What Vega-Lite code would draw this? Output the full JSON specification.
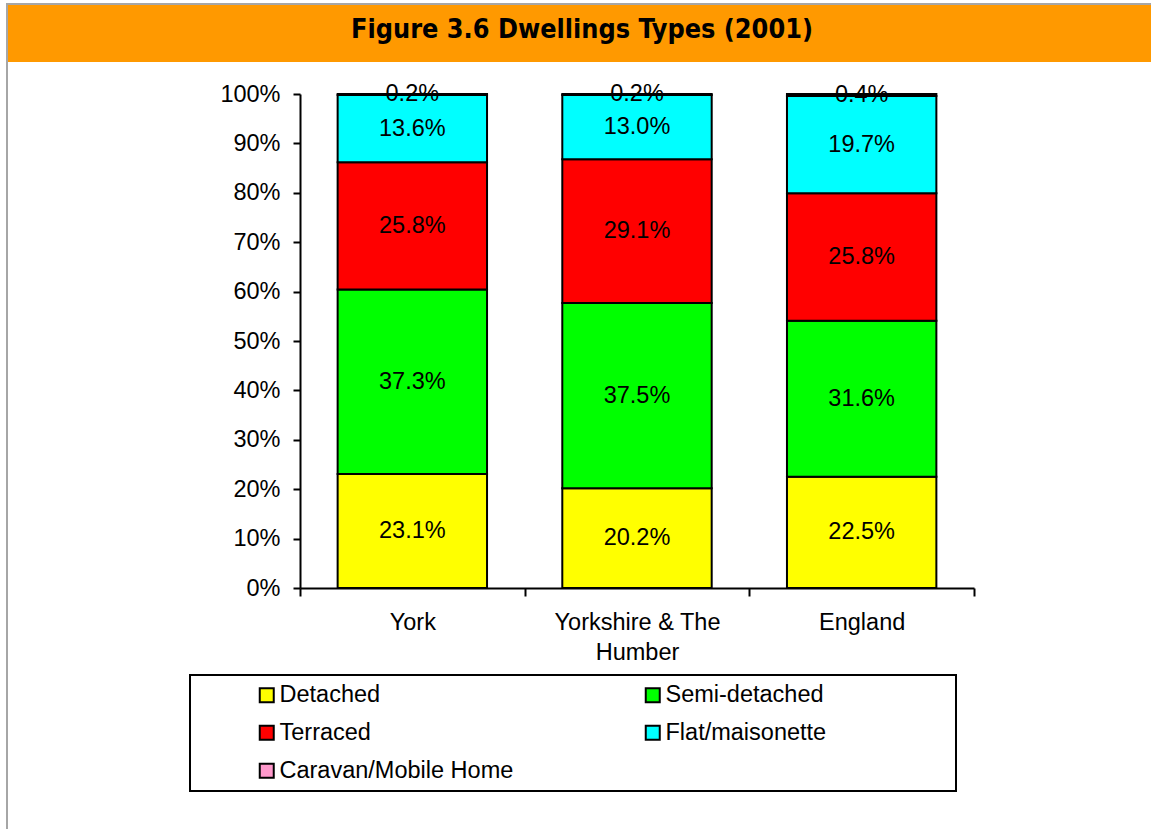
{
  "$schema": "https://vega.github.io/schema/vega-lite/v6.json",
  "padding": {"left": 6, "top": 3, "right": 0, "bottom": 0},
  "background": "white",
  "spacing": 0,
  "config": {"view": {"stroke": null}, "font": "Liberation Sans", "legend": {"strokeWidth": 2}},
  "vconcat": [
    {
      "width": 1145, "height": 2,
      "view": {"fill": "#A6A6A6", "stroke": null},
      "data": {"values": [{}]},
      "mark": {"type": "point", "opacity": 0, "size": 0, "strokeWidth": 0, "filled": true},
      "encoding": {}
    },
    {
      "spacing": 0,
      "hconcat": [
        {
          "width": 2, "height": 824,
          "view": {"fill": "#A6A6A6", "stroke": null},
          "data": {"values": [{}]},
          "mark": {"type": "point", "opacity": 0, "size": 0, "strokeWidth": 0, "filled": true},
          "encoding": {}
        },
        {
          "spacing": 20,
          "vconcat": [
            {
              "width": 1143,
              "height": 57,
              "view": {"fill": "#FF9900", "stroke": null},
              "data": {"values": [{"title": "Figure 3.6 Dwellings Types (2001)"}]},
              "mark": {"type": "text", "font": "DejaVu Sans Condensed, DejaVu Sans", "fontWeight": "bold", "fontSize": 26.8, "color": "black", "baseline": "middle", "align": "center", "dy": -4, "dx": 2.5},
              "encoding": {"text": {"field": "title", "type": "nominal"}}
            },
            {
              "width": 1143,
              "height": 494,
              "data": {"values": [
                {"area": "York", "type": "Detached", "share": 0.231},
                {"area": "York", "type": "Semi-detached", "share": 0.373},
                {"area": "York", "type": "Terraced", "share": 0.258},
                {"area": "York", "type": "Flat/maisonette", "share": 0.136},
                {"area": "York", "type": "Caravan/Mobile Home", "share": 0.002},
                {"area": "Yorkshire & The Humber", "type": "Detached", "share": 0.202},
                {"area": "Yorkshire & The Humber", "type": "Semi-detached", "share": 0.375},
                {"area": "Yorkshire & The Humber", "type": "Terraced", "share": 0.291},
                {"area": "Yorkshire & The Humber", "type": "Flat/maisonette", "share": 0.130},
                {"area": "Yorkshire & The Humber", "type": "Caravan/Mobile Home", "share": 0.002},
                {"area": "England", "type": "Detached", "share": 0.225},
                {"area": "England", "type": "Semi-detached", "share": 0.316},
                {"area": "England", "type": "Terraced", "share": 0.258},
                {"area": "England", "type": "Flat/maisonette", "share": 0.197},
                {"area": "England", "type": "Caravan/Mobile Home", "share": 0.004}
              ]},
              "transform": [
                {"calculate": "indexof(['Detached','Semi-detached','Terraced','Flat/maisonette','Caravan/Mobile Home'], datum.type)", "as": "rank"},
                {"stack": "share", "groupby": ["area"], "sort": [{"field": "rank", "order": "ascending"}], "as": ["y0", "y1"]},
                {"calculate": "(datum.y0 + datum.y1) / 2", "as": "ymid"}
              ],
              "encoding": {
                "x": {
                  "field": "area", "type": "nominal",
                  "sort": ["York", "Yorkshire & The Humber", "England"],
                  "scale": {"paddingInner": 0, "paddingOuter": 0, "range": [292, 966]},
                  "axis": {
                    "title": null, "labelAngle": 0, "labelFontSize": 23.5, "labelColor": "black",
                    "labelFont": "Liberation Sans", "labelPadding": 14, "labelLineHeight": 30,
                    "labelExpr": "datum.label == 'Yorkshire & The Humber' ? ['Yorkshire & The', 'Humber'] : datum.label",
                    "tickBand": "extent", "tickSize": 8, "tickColor": "black", "tickWidth": 2,
                    "domainColor": "black", "domainWidth": 2, "labelLimit": 400
                  }
                }
              },
              "layer": [
                {
                  "mark": {"type": "bar", "stroke": "black", "strokeWidth": 2, "width": {"band": 0.665}},
                  "encoding": {
                    "y": {
                      "field": "y0", "type": "quantitative",
                      "scale": {"domain": [0, 1], "nice": false},
                      "axis": {
                        "title": null, "offset": -292,
                        "values": [0, 0.1, 0.2, 0.3, 0.4, 0.5, 0.6, 0.7, 0.8, 0.9, 1],
                        "format": ".0%", "labelFontSize": 23.5, "labelColor": "black",
                        "labelFont": "Liberation Sans", "labelPadding": 13,
                        "tickSize": 7, "tickColor": "black", "tickWidth": 2,
                        "domainColor": "black", "domainWidth": 2, "grid": false
                      }
                    },
                    "y2": {"field": "y1"},
                    "color": {
                      "field": "type", "type": "nominal",
                      "scale": {
                        "domain": ["Detached", "Terraced", "Caravan/Mobile Home", "Semi-detached", "Flat/maisonette"],
                        "range": ["#FFFF00", "#FF0000", "#FF99CC", "#00FF00", "#00FFFF"]
                      },
                      "legend": {
                        "title": "\u00a0", "titleOrient": "right", "titlePadding": 122, "titleFontSize": 10,
                        "orient": "none", "legendX": 184, "legendY": 672,
                        "columns": 2, "columnPadding": 70,
                        "symbolType": "square", "symbolSize": 196, "symbolStrokeColor": "black",
                        "symbolStrokeWidth": 2, "symbolOffset": 57,
                        "labelFontSize": 23.5, "labelFont": "Liberation Sans", "labelColor": "black",
                        "labelOffset": 1, "labelLimit": 400, "rowPadding": 13,
                        "padding": 8, "strokeColor": "black", "fillColor": "white"
                      }
                    }
                  }
                },
                {
                  "mark": {"type": "text", "fontSize": 23.5, "font": "Liberation Sans", "color": "black", "baseline": "middle", "align": "center"},
                  "encoding": {
                    "y": {"field": "ymid", "type": "quantitative"},
                    "text": {"field": "share", "type": "quantitative", "format": ".1%"}
                  }
                }
              ]
            }
          ]
        }
      ]
    }
  ]
}
